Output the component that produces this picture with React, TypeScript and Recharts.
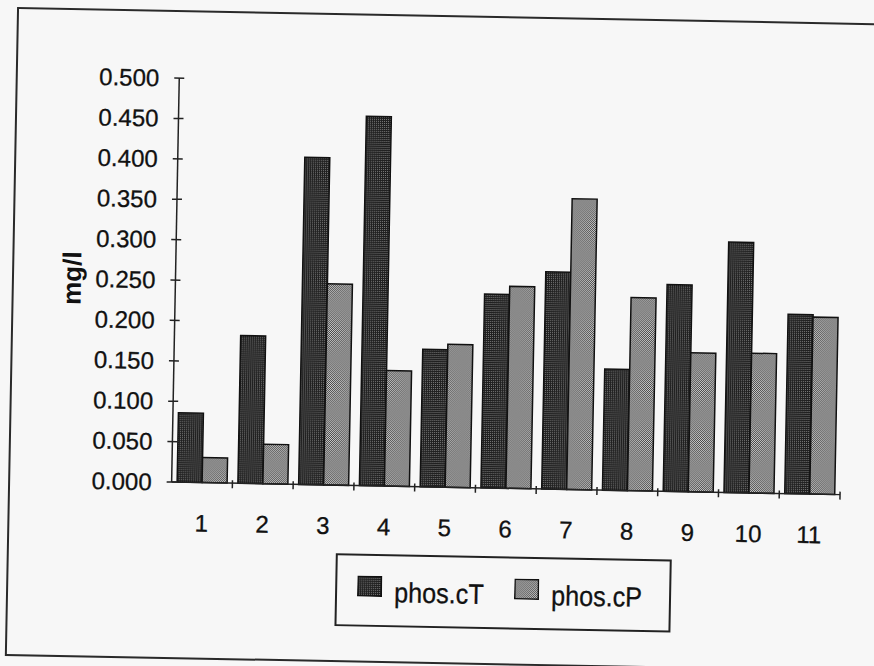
import { BarChart, Bar, XAxis, YAxis, Legend } from 'recharts';

// sample sites 1..11, total / particulate phosphorus in mg/l
const sites = ['1', '2', '3', '4', '5', '6', '7', '8', '9', '10', '11'];
const phosCT = [0.086, 0.183, 0.405, 0.457, 0.170, 0.240, 0.269, 0.150, 0.256, 0.310, 0.222];
const phosCP = [0.031, 0.049, 0.249, 0.143, 0.177, 0.250, 0.360, 0.239, 0.172, 0.173, 0.219];
const yTicks = [0, 0.05, 0.1, 0.15, 0.2, 0.25, 0.3, 0.35, 0.4, 0.45, 0.5];
const seriesNames = ['phos.cT', 'phos.cP'];

const data = sites.map((s, i) => ({ site: s, cT: phosCT[i], cP: phosCP[i] }));

const INK = '#222';
const TEXT = '#111';
const FONT = '"Liberation Sans", Arial, sans-serif';

function YTick(props: any) {
  const { x, y, payload } = props;
  return (
    <g>
      <line x1={x - 5} x2={x + 5} y1={y} y2={y} stroke={INK} strokeWidth={1.5} />
      <text
        x={x - 20}
        y={y + 8.5}
        textAnchor="end"
        fontSize={24}
        fontFamily={FONT}
        fill={TEXT}
        stroke={TEXT}
        strokeWidth={0.3}
      >
        {Number(payload.value).toFixed(3)}
      </text>
    </g>
  );
}

function XTick(props: any) {
  const { x, y, payload } = props;
  const half = payload?.offset ?? 30.4;
  return (
    <g>
      <line x1={x + half} x2={x + half} y1={y - 3} y2={y + 5} stroke={INK} strokeWidth={1.5} />
      <text
        x={x}
        y={y + 49}
        textAnchor="middle"
        fontSize={24}
        fontFamily={FONT}
        fill={TEXT}
        stroke={TEXT}
        strokeWidth={0.3}
      >
        {payload.value}
      </text>
    </g>
  );
}

function LegendBox(props: any) {
  const items = [...(props.payload ?? [])].sort(
    (a: any, b: any) => seriesNames.indexOf(a.value) - seriesNames.indexOf(b.value)
  );
  const lefts = [22, 179];
  return (
    <div
      style={{
        position: 'relative',
        width: 336,
        height: 73,
        boxSizing: 'border-box',
        border: `2px solid ${INK}`,
        fontFamily: FONT,
      }}
    >
      {items.map((it: any, i: number) => (
        <div key={it.value} style={{ position: 'absolute', left: lefts[i] - 2, top: 0 }}>
          <svg width={25} height={21} style={{ position: 'absolute', left: 0, top: 20 }}>
            <rect x={0.75} y={0.75} width={23.5} height={19.5} fill={it.color} stroke="#111" strokeWidth={1.5} />
          </svg>
          <div
            style={{
              position: 'absolute',
              left: 37,
              top: 23,
              fontSize: 28,
              lineHeight: '28px',
              whiteSpace: 'nowrap',
              color: TEXT,
              WebkitTextStroke: '0.3px #111',
              transform: 'scaleX(0.9)',
              transformOrigin: 'left center',
            }}
          >
            {it.value}
          </div>
        </div>
      ))}
    </div>
  );
}

export default function App() {
  return (
    <div
      style={{
        position: 'fixed',
        left: 0,
        top: 0,
        width: 874,
        height: 666,
        overflow: 'hidden',
        background: '#f7f7f7',
      }}
    >
      <div
        style={{
          position: 'absolute',
          left: 0,
          top: 0,
          width: 874,
          height: 666,
          transform: 'rotate(1.08deg)',
          transformOrigin: '437px 333px',
        }}
      >
        <svg width={0} height={0} style={{ position: 'absolute' }}>
          <defs>
            <pattern id="patDark" width={2} height={2} patternUnits="userSpaceOnUse">
              <rect width={2} height={2} fill="#1f1f1f" />
              <rect width={1} height={1} fill="#7a7a7a" />
            </pattern>
            <pattern id="patLight" width={2} height={2} patternUnits="userSpaceOnUse">
              <rect width={2} height={2} fill="#444" />
              <rect width={1} height={1} fill="#cfcfcf" />
              <rect x={1} y={1} width={1} height={1} fill="#cfcfcf" />
            </pattern>
          </defs>
        </svg>

        <div
          style={{
            position: 'absolute',
            left: 11,
            top: 15,
            width: 900,
            height: 645,
            border: '2px solid #2a2a2a',
          }}
        />

        <div style={{ position: 'absolute', left: 0, top: 0 }}>
          <BarChart
            width={874}
            height={666}
            data={data}
            margin={{ top: 83, right: 31, bottom: 119, left: 0 }}
            barCategoryGap="9%"
            barGap={0}
          >
            <YAxis
              width={174.5}
              domain={[0, 0.5]}
              ticks={yTicks}
              interval={0}
              axisLine={{ stroke: INK, strokeWidth: 1.5 }}
              tickLine={false}
              tickSize={0}
              tickMargin={0}
              tick={<YTick />}
              label={{
                content: ({ viewBox }: any) => (
                  <text
                    x={71}
                    y={viewBox.y + viewBox.height / 2 + 9}
                    transform={`rotate(-90 71 ${viewBox.y + viewBox.height / 2})`}
                    textAnchor="middle"
                    fontSize={26}
                    fontWeight="bold"
                    fontFamily={FONT}
                    fill={TEXT}
                  >
                    mg/l
                  </text>
                ),
              }}
            />
            <XAxis
              dataKey="site"
              height={60}
              interval={0}
              axisLine={{ stroke: INK, strokeWidth: 1.5 }}
              tickLine={false}
              tickSize={0}
              tickMargin={0}
              tick={<XTick />}
            />
            <Legend
              layout="horizontal"
              verticalAlign="middle"
              align="center"
              wrapperStyle={{ left: 340, top: 555, width: 336, height: 73 }}
              content={<LegendBox />}
            />
            <Bar dataKey="cT" name={seriesNames[0]} fill="url(#patDark)" stroke="#111" strokeWidth={1.5} isAnimationActive={false} />
            <Bar dataKey="cP" name={seriesNames[1]} fill="url(#patLight)" stroke="#111" strokeWidth={1.5} isAnimationActive={false} />
          </BarChart>
        </div>
      </div>
    </div>
  );
}
